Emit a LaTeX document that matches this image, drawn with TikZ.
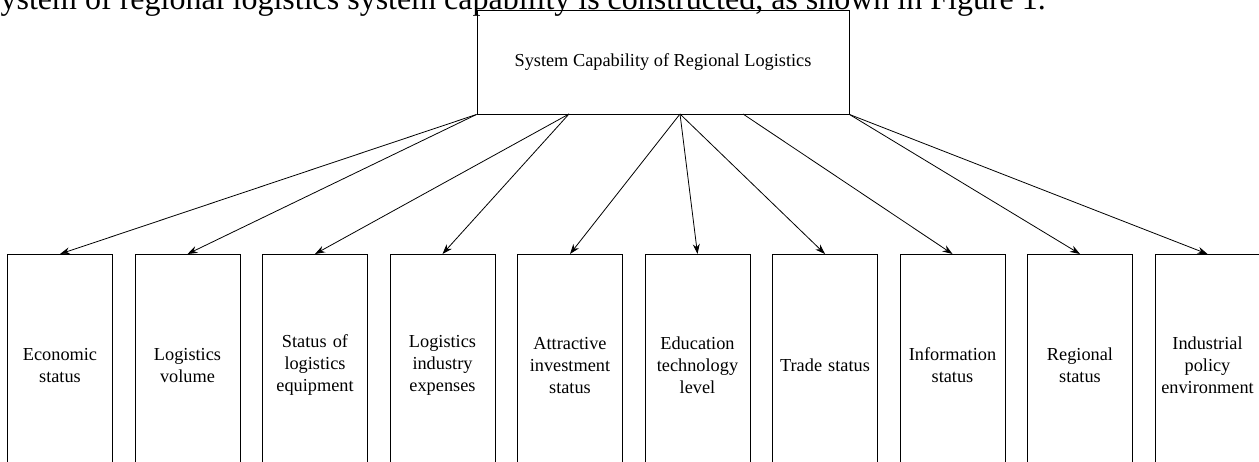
\documentclass[tikz,border=0pt]{standalone}
\usepackage{fontspec}
\setmainfont{Liberation Serif}
\usetikzlibrary{arrows.meta}

\tikzset{
    topbox/.style={draw, line width=0.9pt, minimum width=372pt, minimum height=104pt, inner sep=0pt, font=\fontsize{18.3}{22}\selectfont},
    itembox/.style={draw, line width=0.9pt, minimum width=105pt, minimum height=222pt, inner sep=0pt, text width=103pt, align=center, font=\fontsize{18.3}{22}\selectfont},
    link/.style={line width=0.8pt, -{Stealth[length=10pt, width=7pt]}}
}

\begin{document}
\begin{tikzpicture}[x=1pt, y=-1pt]
        % Fix the frame and cut off what lies outside
        \useasboundingbox (0, 0) rectangle (1259, 461);
        \clip (0, 0) rectangle (1259, 461);

        % Line of text above the figure
        \node[anchor=base west, inner sep=0pt, font=\fontsize{32}{36}\selectfont] (caption) at (-12, 9) {system of regional logistics system capability is constructed, as shown in Figure 1.};

        % Draw the top box
        \node[topbox] (top) at (663, 62) {System Capability of Regional Logistics};

        % Points on the bottom edge of the top box where the arrows leave
        \coordinate (s1) at (top.south west);
        \coordinate (s2) at (569, 114);
        \coordinate (s3) at (680, 114);
        \coordinate (s4) at (743, 114);
        \coordinate (s5) at (top.south east);

        % Draw the ten boxes below
        \foreach \i/\txt in {1/{Economic\\status}, 2/{Logistics\\volume}, 3/{Status of\\logistics\\equipment}, 4/{Logistics\\industry\\expenses}, 5/{Attractive\\investment\\status}, 6/{Education\\technology\\level}, 7/{Trade status}, 8/{Information\\status}, 9/{Regional\\status}, 10/{Industrial\\policy\\environment}} {
            \node[itembox, anchor=north] (b\i) at ({60 + 127.5*(\i-1)}, 254) {\txt};
        }

        % Draw the arrows from the top box to each box
        \foreach \s/\i in {s1/1, s1/2, s2/3, s2/4, s3/5, s3/6, s3/7, s4/8, s5/9, s5/10} {
            \draw[link] (\s) -- (b\i.north);
        }
    \end{tikzpicture}
\end{document}
